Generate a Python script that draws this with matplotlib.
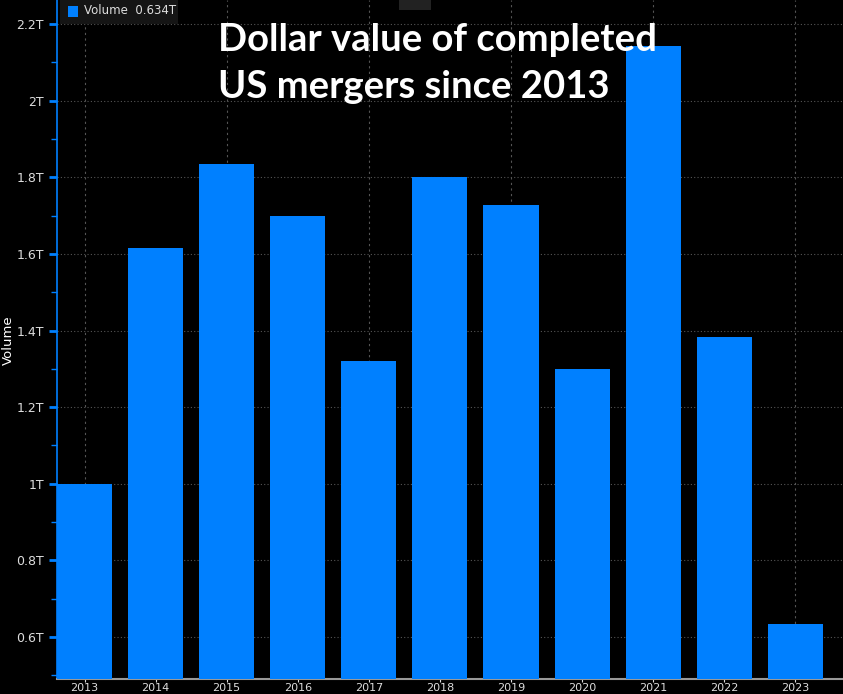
import matplotlib
matplotlib.use("Agg")
import matplotlib.pyplot as plt
from matplotlib.ticker import FixedLocator, MultipleLocator

years = ["2013", "2014", "2015", "2016", "2017", "2018", "2019", "2020", "2021", "2022", "2023"]
volume = [1.00, 1.616, 1.834, 1.70, 1.32, 1.80, 1.727, 1.299, 2.143, 1.382, 0.634]  # trillions
ytick_vals = [0.6, 0.8, 1.0, 1.2, 1.4, 1.6, 1.8, 2.0, 2.2]
ytick_labels = ["0.6T", "0.8T", "1T", "1.2T", "1.4T", "1.6T", "1.8T", "2T", "2.2T"]

blue = "#0080ff"
fig = plt.figure(figsize=(8.43, 6.94), dpi=100, facecolor="black")
ax = fig.add_axes([57 / 843, 15 / 694, 786 / 843, 679 / 694], facecolor="black")

x = list(range(len(years)))
ax.bar(x, volume, width=0.775, color=blue, zorder=3)

ax.set_xlim(-0.387, 10.67)
ax.set_ylim(0.49, 2.263)
ax.yaxis.set_major_locator(FixedLocator(ytick_vals))
ax.set_yticklabels(ytick_labels)
ax.yaxis.set_minor_locator(MultipleLocator(0.1))
ax.set_xticks(x)
ax.set_xticklabels(years)

ax.grid(axis="y", which="major", color="#555555", linestyle=(0, (1, 2)), linewidth=0.8, zorder=0)
for xi in x[::2]:
    ax.axvline(xi, color="#555555", linestyle=(0, (2, 3)), linewidth=0.8, zorder=0)

for s in ["top", "right"]:
    ax.spines[s].set_visible(False)
ax.spines["left"].set_color(blue)
ax.spines["left"].set_linewidth(1.2)
ax.spines["bottom"].set_color("#999999")
ax.spines["bottom"].set_linewidth(1.5)

ax.tick_params(axis="y", which="major", colors=blue, length=6, width=2, labelcolor="#dddddd", labelsize=9)
ax.tick_params(axis="y", which="minor", colors=blue, length=4, width=1)
ax.tick_params(axis="x", colors="#dddddd", length=2, labelsize=8, pad=1)

fig.text(8 / 843, 1 - 340 / 694, "Volume", color="white", fontsize=9.5, rotation=90,
         ha="center", va="center")

# legend box
fig.patches.append(plt.Rectangle((60 / 843, 1 - 24 / 694), 118 / 843, 24 / 694,
                                 transform=fig.transFigure, facecolor="#151515", edgecolor="none"))
fig.patches.append(plt.Rectangle((68 / 843, 1 - 17 / 694), 10 / 843, 11 / 694,
                                 transform=fig.transFigure, facecolor=blue, edgecolor="none"))
fig.text(84 / 843, 1 - 11 / 694, "Volume  0.634T", color="#dddddd", fontsize=8.5, va="center")

# small chart icon
fig.patches.append(plt.Rectangle((399 / 843, 1 - 10 / 694), 32 / 843, 10 / 694,
                                 transform=fig.transFigure, facecolor="#222222", edgecolor="none"))

fig.text(218 / 843, 1 - 23 / 694, "Dollar value of completed\nUS mergers since 2013",
         color="white", fontsize=27.5, fontweight="bold", family=["Lato", "DejaVu Sans"],
         va="top", ha="left", linespacing=1.45)

fig.savefig("out.png", dpi=100, facecolor="black")
